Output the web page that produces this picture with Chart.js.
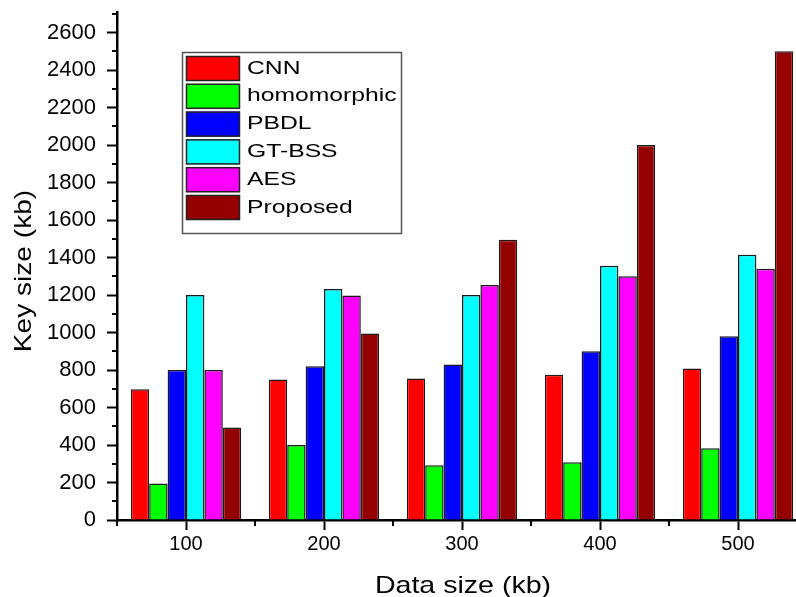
<!DOCTYPE html>
<html>
<head>
<meta charset="utf-8">
<title>Key size vs data size</title>
<script src="https://cdn.jsdelivr.net/npm/chart.js@4/dist/chart.umd.min.js"></script>
<style>
  html, body { margin: 0; padding: 0; background: #fff; overflow: hidden; }
  #wrap { width: 796px; height: 597px; overflow: hidden; position: relative; }
  canvas { display: block; }
</style>
</head>
<body>
<div id="wrap"><canvas id="chart" width="807" height="597"></canvas></div>
<script>
// Data size categories (kb)
const categories = ['100', '200', '300', '400', '500'];

// Key size (kb) per method
const cnn         = [697, 750, 755, 775, 808];
const homomorphic = [195, 400, 292, 308, 383];
const pbdl        = [800, 820, 830, 900, 980];
const gtbss       = [1200, 1232, 1200, 1357, 1415];
const aes         = [800, 1198, 1253, 1300, 1340];
const proposed    = [493, 995, 1495, 2000, 2500];

const seriesNames  = ['CNN', 'homomorphic', 'PBDL', 'GT-BSS', 'AES', 'Proposed'];
const seriesValues = [cnn, homomorphic, pbdl, gtbss, aes, proposed];
const seriesColors = ['#ff0000', '#00ff00', '#0000ff', '#00ffff', '#ff00ff', '#940000'];

// y axis tick labels
const yTicks = [0, 200, 400, 600, 800, 1000, 1200, 1400, 1600, 1800, 2000, 2200, 2400, 2600];
const yMax = 2710;

const FONT = '"Liberation Sans", Arial, Helvetica, sans-serif';

// Minor tick marks, axis titles and the boxed legend
const decorations = {
  id: 'decorations',
  afterDraw(chart) {
    const ctx = chart.ctx;
    const area = chart.chartArea;
    const xs = chart.scales.x;
    const ys = chart.scales.y;
    ctx.save();
    ctx.strokeStyle = '#000';
    ctx.lineWidth = 2;

    // minor ticks on y axis, halfway between labelled ticks
    for (let i = 0; i < yTicks.length; i++) {
      const v = yTicks[i] + (yTicks[1] - yTicks[0]) / 2;
      if (v > yMax) break;
      const py = Math.round(ys.getPixelForValue(v));
      ctx.beginPath();
      ctx.moveTo(area.left - 5, py);
      ctx.lineTo(area.left, py);
      ctx.stroke();
    }
    // minor ticks on x axis, at the boundaries between groups
    const step = xs.getPixelForValue(1) - xs.getPixelForValue(0);
    for (let i = 0; i <= categories.length; i++) {
      const px = Math.round(xs.getPixelForValue(0) + (i - 0.5) * step);
      ctx.beginPath();
      ctx.moveTo(px, area.bottom);
      ctx.lineTo(px, area.bottom + 6);
      ctx.stroke();
    }

    // axis titles
    ctx.fillStyle = '#000';
    ctx.font = '24px ' + FONT;
    ctx.textAlign = 'center';
    ctx.textBaseline = 'alphabetic';

    ctx.save();
    ctx.translate(463, 593);
    ctx.scale(1.19, 1);
    ctx.fillText('Data size (kb)', 0, 0);
    ctx.restore();

    ctx.save();
    ctx.translate(31, 271);
    ctx.rotate(-Math.PI / 2);
    ctx.scale(1.17, 1);
    ctx.fillText('Key size (kb)', 0, 0);
    ctx.restore();

    // legend
    const lx = 182, ly = 52, lw = 219, lh = 181;
    ctx.fillStyle = '#fff';
    ctx.fillRect(lx, ly, lw, lh);
    ctx.strokeStyle = '#555';
    ctx.lineWidth = 1.5;
    ctx.strokeRect(lx + 0.5, ly + 0.5, lw, lh);

    const pitch = 27.8;
    chart.data.datasets.forEach((ds, i) => {
      const sy = 56 + i * pitch;
      ctx.fillStyle = ds.backgroundColor;
      ctx.fillRect(186, sy, 54, 25);
      ctx.strokeStyle = '#222';
      ctx.lineWidth = 1.5;
      ctx.strokeRect(186.5, sy + 0.5, 53, 24);

      ctx.save();
      ctx.fillStyle = '#000';
      ctx.font = '19px ' + FONT;
      ctx.textAlign = 'left';
      ctx.textBaseline = 'alphabetic';
      ctx.translate(247, sy + 17.5);
      ctx.scale(1.3, 1);
      ctx.fillText(ds.label, 0, 0);
      ctx.restore();
    });

    ctx.restore();
  }
};

new Chart(document.getElementById('chart'), {
  type: 'bar',
  data: {
    labels: categories,
    datasets: seriesNames.map((name, i) => ({
      label: name,
      data: seriesValues[i],
      backgroundColor: seriesColors[i],
      borderColor: '#1a1a1a',
      borderWidth: 1.5,
      barPercentage: 1.0,
      categoryPercentage: 0.8
    }))
  },
  options: {
    responsive: false,
    animation: false,
    devicePixelRatio: 1,
    layout: { padding: { top: 0, left: 0, right: 0, bottom: 0 } },
    plugins: {
      legend: { display: false },
      tooltip: { enabled: false }
    },
    scales: {
      x: {
        offset: true,
        grid: {
          offset: false,
          drawOnChartArea: false,
          drawTicks: true,
          tickLength: 10,
          tickWidth: 2,
          tickColor: '#000'
        },
        border: { display: true, color: '#000', width: 2.5 },
        ticks: {
          color: '#000',
          font: { family: FONT, size: 20 },
          padding: 2,
          maxRotation: 0
        },
        afterFit(scale) { scale.height = 77; }
      },
      y: {
        min: 0,
        max: yMax,
        grid: {
          drawOnChartArea: false,
          drawTicks: true,
          tickLength: 10,
          tickWidth: 2,
          tickColor: '#000'
        },
        border: { display: true, color: '#000', width: 2.5 },
        ticks: {
          color: '#000',
          font: { family: FONT, size: 22 },
          padding: 11,
          callback: (value) => String(value)
        },
        afterBuildTicks(scale) {
          scale.ticks = yTicks.map(v => ({ value: v }));
        },
        afterFit(scale) {
          scale.width = 117;
          scale.paddingTop = 12;
        }
      }
    }
  },
  plugins: [decorations]
});
</script>
</body>
</html>
